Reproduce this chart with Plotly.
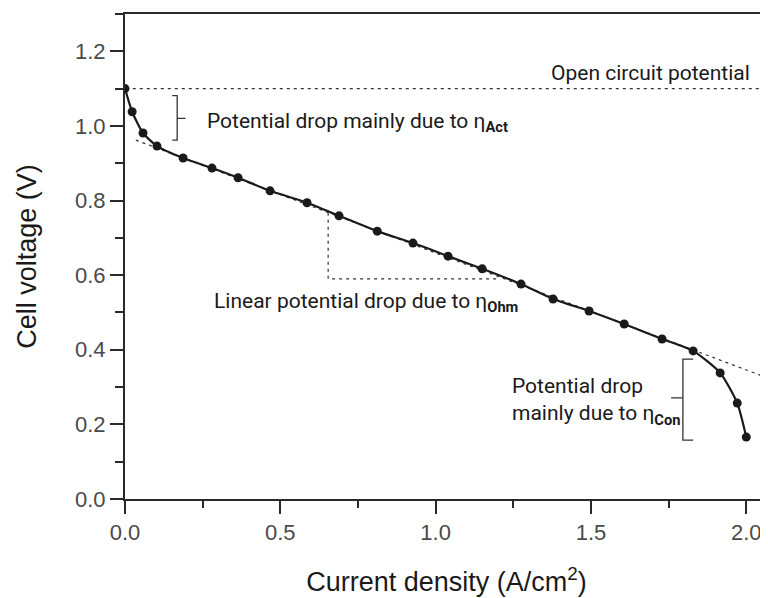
import plotly.graph_objects as go

# --- data ---
current_density = [0.0, 0.023, 0.058, 0.103, 0.187, 0.280, 0.364, 0.467, 0.586, 0.689,
                   0.812, 0.927, 1.040, 1.150, 1.275, 1.378, 1.494, 1.607, 1.729, 1.829,
                   1.916, 1.971, 2.000]
cell_voltage = [1.100, 1.038, 0.981, 0.946, 0.914, 0.887, 0.861, 0.826, 0.794, 0.759,
                0.718, 0.686, 0.651, 0.617, 0.576, 0.536, 0.504, 0.469, 0.429, 0.397,
                0.338, 0.257, 0.166]

ocv_value = 1.10
ocv_x = [0.025, 2.07]
ohmic_fit_x = [0.035, 2.07]
ohmic_fit_y = [0.962, 0.324]

act_bracket_x = [0.152, 0.168, 0.168, 0.195, 0.168, 0.168, 0.152]
act_bracket_y = [1.081, 1.081, 1.020, 1.020, 1.020, 0.962, 0.962]
con_bracket_x = [1.829, 1.796, 1.796, 1.758, 1.796, 1.796, 1.829]
con_bracket_y = [0.375, 0.375, 0.271, 0.271, 0.271, 0.158, 0.158]
ohm_triangle_x = [0.654, 0.654, 1.208]
ohm_triangle_y = [0.767, 0.590, 0.590]

x_ticks = [0.0, 0.5, 1.0, 1.5, 2.0]
x_tick_text = ["0.0", "0.5", "1.0", "1.5", "2.0"]
y_ticks = [0.0, 0.2, 0.4, 0.6, 0.8, 1.0, 1.2]
y_tick_text = ["0.0", "0.2", "0.4", "0.6", "0.8", "1.0", "1.2"]

ann_font = "Roboto, Arial, sans-serif"
ink = "#1a1a1a"

fig = go.Figure()

# dashed guide lines
fig.add_trace(go.Scatter(x=ocv_x, y=[ocv_value, ocv_value], mode="lines",
                         line=dict(color="#333", width=1.2, dash="3px,4px"),
                         hoverinfo="skip", showlegend=False))
fig.add_trace(go.Scatter(x=ohmic_fit_x, y=ohmic_fit_y, mode="lines",
                         line=dict(color="#333", width=1.2, dash="3px,4px"),
                         hoverinfo="skip", showlegend=False))
fig.add_trace(go.Scatter(x=ohm_triangle_x, y=ohm_triangle_y, mode="lines",
                         line=dict(color="#333", width=1.2, dash="3px,4px"),
                         hoverinfo="skip", showlegend=False))
# brackets
fig.add_trace(go.Scatter(x=act_bracket_x, y=act_bracket_y, mode="lines",
                         line=dict(color="#333", width=1.3),
                         hoverinfo="skip", showlegend=False))
fig.add_trace(go.Scatter(x=con_bracket_x, y=con_bracket_y, mode="lines",
                         line=dict(color="#333", width=1.3),
                         hoverinfo="skip", showlegend=False))

# polarization curve
fig.add_trace(go.Scatter(x=current_density, y=cell_voltage, mode="lines+markers",
                         line=dict(color=ink, width=2.2, shape="spline", smoothing=0.6),
                         marker=dict(color=ink, size=9),
                         showlegend=False))

annotations = [
    dict(x=1.691, y=1.142, text="Open circuit potential", xanchor="center", yanchor="middle"),
    dict(x=0.258, y=1.008, text="Potential drop mainly due to η<sub><b>Act</b></sub>",
         xanchor="left", yanchor="middle"),
    dict(x=0.280, y=0.528, text="Linear potential drop due to η<sub><b>Ohm</b></sub>",
         xanchor="left", yanchor="middle"),
    dict(x=1.240, y=0.262, text="Potential drop<br>mainly due to η<sub><b>Con</b></sub>",
         xanchor="left", yanchor="middle", align="left"),
]
for a in annotations:
    a.update(xref="x", yref="y", showarrow=False,
             font=dict(family=ann_font, size=21, color=ink))

# the page body adds an 8px offset, so the figure is 760x590 to fill the 768x598 window
fig.update_layout(
    width=760, height=590,
    margin=dict(l=117, r=0, t=6, b=99, autoexpand=False),
    paper_bgcolor="white", plot_bgcolor="white",
    annotations=annotations,
    font=dict(family="Liberation Sans, Arial, sans-serif"),
)

axis_common = dict(
    showgrid=False, zeroline=False, showline=True, linecolor="#2a2a2a", linewidth=2,
    ticks="outside", ticklen=13, tickwidth=2, tickcolor="#2a2a2a", automargin=False,
    tickfont=dict(family="Liberation Sans, Arial, sans-serif", size=22, color="#4a4a4a"),
)
fig.update_xaxes(
    **axis_common, range=[0, 2.07], tickvals=x_ticks, ticktext=x_tick_text, mirror=True,
    minor=dict(dtick=0.25, tick0=0, ticks="outside", ticklen=7, tickwidth=2, tickcolor="#2a2a2a"),
    title=dict(text="Current density (A/cm<sup>2</sup>)", standoff=28,
               font=dict(family="Liberation Sans, Arial, sans-serif", size=27, color=ink)),
)
fig.update_yaxes(
    **axis_common, range=[0, 1.3], tickvals=y_ticks, ticktext=y_tick_text,
    minor=dict(dtick=0.1, tick0=0, ticks="outside", ticklen=8, tickwidth=2, tickcolor="#2a2a2a"),
    title=dict(text="Cell voltage (V)", standoff=31,
               font=dict(family="Liberation Sans, Arial, sans-serif", size=27, color=ink)),
)

fig.write_html("out.html")
